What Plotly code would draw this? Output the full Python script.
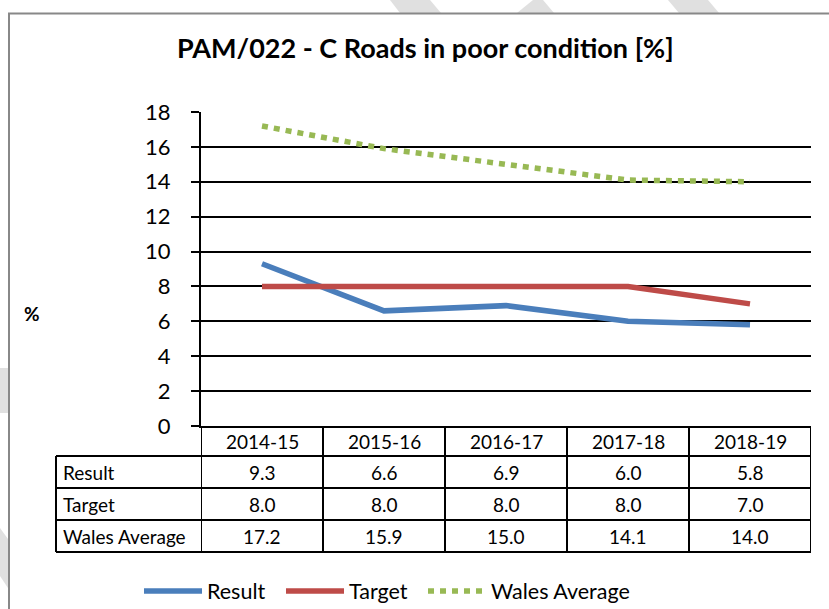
import plotly.graph_objects as go

W, H = 829, 609

categories = ["2014-15", "2015-16", "2016-17", "2017-18", "2018-19"]
result = [9.3, 6.6, 6.9, 6.0, 5.8]
target = [8.0, 8.0, 8.0, 8.0, 7.0]
wales_avg = [17.2, 15.9, 15.0, 14.1, 14.0]
series_names = ["Result", "Target", "Wales Average"]
y_ticks = list(range(0, 20, 2))
title_text = "PAM/022 - C Roads in poor condition [%]"

FONT = "Lato"


def px(x):
    return x / W


def py(y):
    return 1 - y / H


fig = go.Figure()

fig.add_trace(go.Scatter(x=categories, y=result, mode="lines", name=series_names[0],
                         legend="legend",
                         line=dict(color="#4A7EBB", width=5.5)))
fig.add_trace(go.Scatter(x=categories, y=target, mode="lines", name=series_names[1],
                         legend="legend2",
                         line=dict(color="#BE4B48", width=5.5)))
fig.add_trace(go.Scatter(x=categories, y=wales_avg, mode="lines", name=series_names[2],
                         legend="legend3",
                         line=dict(color="#98B954", width=5.5, dash="6px,6px")))

shapes = []
# faint background watermark pieces outside the chart frame
wm = "#E0E0E0"
wm_polys = [
    [(390, 0), (430, 0), (441, 13), (400, 13)],
    [(533, 0), (543, 0), (554, 13), (517, 13)],
    [(668, 0), (708, 0), (719, 13), (679, 13)],
    [(0, 368), (8, 368), (8, 413), (0, 413)],
    [(0, 528), (8, 539), (8, 588), (0, 576)],
]
for poly in wm_polys:
    path = "M " + " L ".join(f"{px(a):.5f},{py(b):.5f}" for a, b in poly) + " Z"
    shapes.append(dict(type="path", xref="paper", yref="paper", path=path,
                       fillcolor=wm, line=dict(width=0), layer="below"))
# chart frame
shapes.append(dict(type="rect", xref="paper", yref="paper",
                   x0=px(9), x1=px(840), y0=py(620), y1=py(13.5),
                   fillcolor="white", line=dict(color="#888888", width=2), layer="below"))

# data table borders
tbl_left, tbl_right = 56, 811
row_edges = [456, 488, 520, 552]
for yy in row_edges:
    shapes.append(dict(type="line", xref="paper", yref="paper",
                       x0=px(tbl_left), x1=px(tbl_right), y0=py(yy), y1=py(yy),
                       line=dict(color="black", width=2)))
for i in range(len(categories) + 1):
    shapes.append(dict(type="line", xref="x", yref="paper",
                       x0=i - 0.5, x1=i - 0.5, y0=py(426), y1=py(552),
                       line=dict(color="black", width=2)))
shapes.append(dict(type="line", xref="paper", yref="paper",
                   x0=px(tbl_left), x1=px(tbl_left), y0=py(456), y1=py(552),
                   line=dict(color="black", width=2)))

annotations = []
tf = dict(family=FONT, size=19, color="black")
for c in categories:
    annotations.append(dict(x=c, y=py(441), xref="x", yref="paper", text=c,
                            showarrow=False, font=tf, xanchor="center", yanchor="middle"))
rows = [result, target, wales_avg]
row_centers = [472, 504, 536]
for name, vals, yc in zip(series_names, rows, row_centers):
    annotations.append(dict(x=px(61), y=py(yc), xref="paper", yref="paper", text=name,
                            showarrow=False, font=tf, xanchor="left", yanchor="middle"))
    for c, v in zip(categories, vals):
        annotations.append(dict(x=c, y=py(yc), xref="x", yref="paper", text=f"{v:.1f}",
                                showarrow=False, font=tf, xanchor="center", yanchor="middle"))

annotations.append(dict(x=px(425), y=py(47), xref="paper", yref="paper",
                        text=f"<b>{title_text}</b>", showarrow=False,
                        font=dict(family=FONT, size=27, color="black"),
                        xanchor="center", yanchor="middle"))
annotations.append(dict(x=px(32), y=py(313), xref="paper", yref="paper",
                        text="<b>%</b>", showarrow=False,
                        font=dict(family=FONT, size=19, color="black"),
                        xanchor="center", yanchor="middle"))


def leg(xpx):
    return dict(orientation="h", x=px(xpx), xanchor="left", y=py(591), yanchor="middle",
                font=dict(family=FONT, size=21.5, color="black"),
                itemwidth=58, bgcolor="rgba(0,0,0,0)")


fig.update_layout(
    width=W, height=H,
    margin=dict(l=0, r=0, t=0, b=0, autoexpand=False),
    paper_bgcolor="white",
    plot_bgcolor="rgba(0,0,0,0)",
    shapes=shapes,
    annotations=annotations,
    showlegend=True,
    legend=leg(139),
    legend2=leg(281),
    legend3=leg(423),
    xaxis=dict(domain=[px(201), px(811)], range=[-0.5, 4.5], type="category",
               showticklabels=False, showgrid=False, zeroline=False,
               showline=True, linecolor="black", linewidth=2, ticks=""),
    yaxis=dict(domain=[py(426), py(112)], range=[0, 18], tickvals=y_ticks,
               showgrid=True, gridcolor="black", gridwidth=1.5, zeroline=False,
               showline=True, linecolor="black", linewidth=2,
               ticks="outside", ticklen=8, tickcolor="black", tickwidth=1.5,
               ticklabelstandoff=16,
               tickfont=dict(family=FONT, size=22, color="black")),
    font=dict(family=FONT),
)

fig.write_html("out.html", config={"displayModeBar": False},
               post_script="document.body.style.margin='0';document.body.style.overflow='hidden';")
